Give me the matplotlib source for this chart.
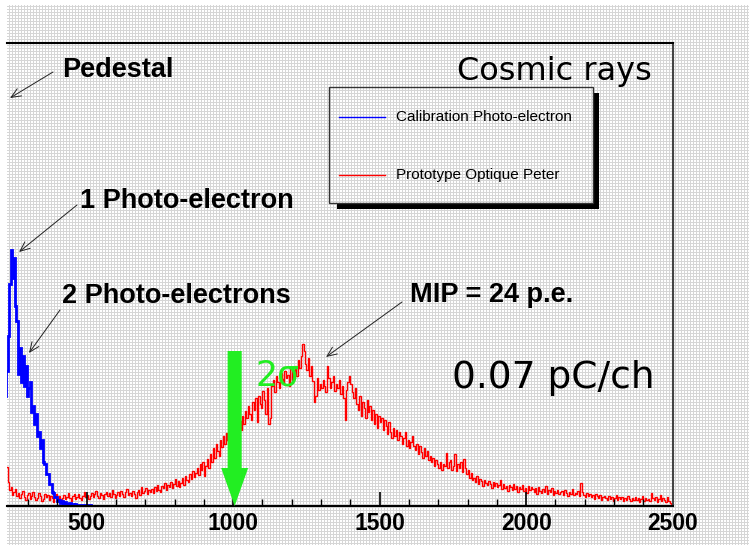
import matplotlib.pyplot as plt
import numpy as np
from matplotlib.lines import Line2D
from matplotlib.patches import FancyArrow, Rectangle
from matplotlib.ticker import MultipleLocator

W, H = 756, 547

# red histogram: prototype response to cosmic rays, 5 ch bins from 220
red_start, red_width = 220, 5
red_counts = [
    39, 39, 24, 16, 19, 11, 14, 17, 10, 13,
    8, 12, 15, 9, 6, 11, 13, 7, 10, 14,
    9, 6, 8, 13, 10, 5, 7, 12, 9, 11,
    6, 10, 8, 4, 9, 12, 7, 10, 6, 8,
    11, 7, 9, 13, 8, 5, 10, 12, 7, 9,
    12, 8, 6, 10, 14, 9, 11, 7, 10, 13,
    9, 12, 15, 10, 8, 13, 11, 7, 12, 14,
    10, 13, 9, 16, 12, 8, 11, 14, 10, 15,
    12, 9, 14, 17, 11, 13, 10, 15, 12, 8,
    14, 16, 11, 19, 13, 15, 18, 12, 16, 14,
    17, 13, 19, 15, 21, 16, 14, 20, 18, 23,
    16, 21, 19, 24, 18, 22, 27, 20, 25, 19,
    23, 28, 21, 30, 26, 24, 32, 27, 35, 29,
    33, 38, 31, 42, 36, 44, 30, 40, 47, 38,
    52, 44, 58, 48, 62, 55, 50, 66, 59, 70,
    62, 73, 66, 58, 70, 75, 68, 80, 72, 78,
    85, 76, 90, 82, 95, 88, 100, 92, 86, 104,
    96, 108, 84, 110, 102, 98, 115, 106, 92, 118,
    82, 88, 120, 126, 114, 130, 124, 118, 133, 127,
    122, 135, 128, 131, 120, 138, 126, 134, 140, 130,
    146, 138, 150, 162, 155, 142, 136, 148, 130, 140,
    125, 104, 110, 128, 116, 122, 118, 126, 120, 114,
    140, 128, 118, 124, 130, 115, 122, 118, 126, 112,
    120, 108, 86, 116, 124, 130, 122, 114, 108, 118,
    102, 96, 110, 90, 104, 98, 88, 106, 94, 100,
    86, 96, 82, 92, 78, 90, 84, 88, 76, 86,
    80, 72, 84, 74, 68, 78, 70, 76, 66, 74,
    70, 62, 68, 74, 60, 66, 58, 64, 70, 60,
    56, 62, 52, 60, 54, 48, 58, 50, 55, 46,
    50, 44, 48, 40, 46, 42, 38, 44, 36, 42,
    40, 53, 38, 44, 46, 36, 40, 52, 35, 42,
    38, 44, 34, 47, 38, 32, 36, 28, 33, 26,
    28, 24, 30, 22, 27, 25, 20, 26, 23, 21,
    25, 22, 18, 24, 20, 23, 19, 21, 26, 17,
    22, 18, 20, 15, 21, 19, 16, 22, 17, 20,
    14, 19, 17, 21, 15, 18, 13, 20, 16, 19,
    17, 14, 18, 12, 19, 15, 13, 17, 14, 20,
    12, 16, 14, 18, 11, 15, 13, 16, 12, 14,
    15, 11, 16, 13, 10, 14, 12, 17, 11, 13,
    12, 15, 10, 23, 14, 11, 9, 13, 10, 12,
    9, 11, 7, 12, 10, 8, 11, 6, 9, 10,
    8, 6, 10, 7, 9, 5, 8, 11, 6, 9,
    7, 9, 5, 8, 6, 10, 7, 5, 8, 6,
    9, 6, 8, 4, 7, 10, 5, 8, 6, 7,
    5, 13, 8, 6, 9, 4, 7, 11, 5, 8,
    6, 4, 9, 5, 3, 2,
]

# blue histogram: single photo-electron calibration, 5 ch bins from 215
blue_start, blue_width = 215, 5
blue_counts = [
    95, 110, 135, 170, 222, 256, 228, 248, 200, 185,
    132, 158, 124, 150, 120, 140, 110, 118, 124, 94,
    100, 82, 92, 70, 74, 58, 66, 44, 42, 32,
    32, 22, 22, 14, 13, 9, 9, 5, 6, 3,
    5, 2, 4, 2, 2, 3, 1, 2, 1, 2,
    1, 1, 1, 1, 1, 1, 1, 1, 1, 1, 0,
]

x_ticks = [500, 1000, 1500, 2000, 2500]
cut_value = 1005

red_edges = red_start + red_width * np.arange(len(red_counts) + 1)
blue_edges = blue_start + blue_width * np.arange(len(blue_counts) + 1)


def fx(px):
    return px / W


def fy(py):
    return 1 - py / H


fig = plt.figure(figsize=(W / 100, H / 100), dpi=100)

# fine grey grid texture behind everything
bg = np.ones((H, W, 3))
yy, xx = np.mgrid[0:H, 0:W]
mask = ((xx % 3 == 0) | (yy % 3 == 0)) & (xx >= 7) & (xx < 749) & (yy >= 5) & (yy < 545)
bg[mask] = 0.84
fig.figimage(bg, 0, 0, zorder=-1)

ax = fig.add_axes([fx(7), fy(506), fx(672.7) - fx(7), fy(43) - fy(506)])
ax.set_facecolor('none')

ax.stairs(red_counts, red_edges, color='red', lw=1.0, baseline=None)
ax.stairs(blue_counts, blue_edges, color='blue', lw=2.0, baseline=None)

ax.set_xlim(228, 2500)
ax.set_ylim(0, 463)

ax.spines['left'].set_visible(False)
ax.spines['top'].set_linewidth(1.5)
ax.spines['bottom'].set_linewidth(1.5)
ax.spines['right'].set_linewidth(1.5)
ax.spines['right'].set_color('#444444')

ax.set_yticks([])
ax.set_xticks(x_ticks, labels=[str(v) for v in x_ticks],
              fontweight='bold', fontfamily='Liberation Sans')
ax.xaxis.set_minor_locator(MultipleLocator(100))
ax.tick_params(axis='x', which='major', direction='in', length=10, width=1.2,
               labelsize=16.5, pad=4)
ax.tick_params(axis='x', which='minor', direction='in', length=5, width=1)

# 2 sigma cut
ax.add_patch(FancyArrow(cut_value, 155, 0, -155, width=48, head_width=92,
                        head_length=38, length_includes_head=True,
                        color='#22ee22', lw=0, zorder=5, clip_on=False))
fig.text(fx(255), fy(385), '2σ', color='#22ee22', fontsize=25,
         family='DejaVu Sans', va='baseline')

bold = dict(family='Liberation Sans', fontweight='bold', fontsize=19.5, va='baseline')
fig.text(fx(62), fy(77), 'Pedestal', **bold)
fig.text(fx(80), fy(208), '1 Photo-electron', **bold)
fig.text(fx(62), fy(303), '2 Photo-electrons', **bold)
fig.text(fx(410), fy(302), 'MIP = 24 p.e.', **bold)

fig.text(fx(457), fy(80), 'Cosmic rays', fontsize=23, family='DejaVu Sans', va='baseline')
fig.text(fx(452), fy(388), '0.07 pC/ch', fontsize=27, family='DejaVu Sans', va='baseline')

arrow_style = dict(arrowstyle='->,head_length=0.7,head_width=0.3', lw=0.7,
                   color='#222222', shrinkA=0, shrinkB=0)
for (x0, y0), (x1, y1) in [((53, 72), (10, 98)),
                           ((77, 205), (19, 252)),
                           ((60, 310), (29, 353)),
                           ((402, 302), (326, 357))]:
    ax.annotate('', xy=(x1, H - y1), xycoords='figure pixels',
                xytext=(x0, H - y0), textcoords='figure pixels',
                arrowprops=arrow_style, annotation_clip=False)

# legend box with black drop shadow
fig.add_artist(Rectangle((fx(593), fy(209)), fx(599) - fx(593), fy(93) - fy(209),
                         transform=fig.transFigure, color='black', lw=0))
fig.add_artist(Rectangle((fx(337), fy(209)), fx(599) - fx(337), fy(203) - fy(209),
                         transform=fig.transFigure, color='black', lw=0))
fig.add_artist(Rectangle((fx(329), fy(203)), fx(593) - fx(329), fy(87) - fy(203),
                         transform=fig.transFigure, fill=False, ec='#333333', lw=1))
for ypx, col, label in [(117, 'blue', 'Calibration Photo-electron'),
                        (175, 'red', 'Prototype Optique Peter')]:
    fig.add_artist(Line2D([fx(339), fx(385)], [fy(ypx), fy(ypx)],
                          transform=fig.transFigure, color=col, lw=1))
    fig.text(fx(396), fy(ypx), label, fontsize=11, family='Liberation Sans',
             va='center')

fig.savefig('out.png', dpi=100)
